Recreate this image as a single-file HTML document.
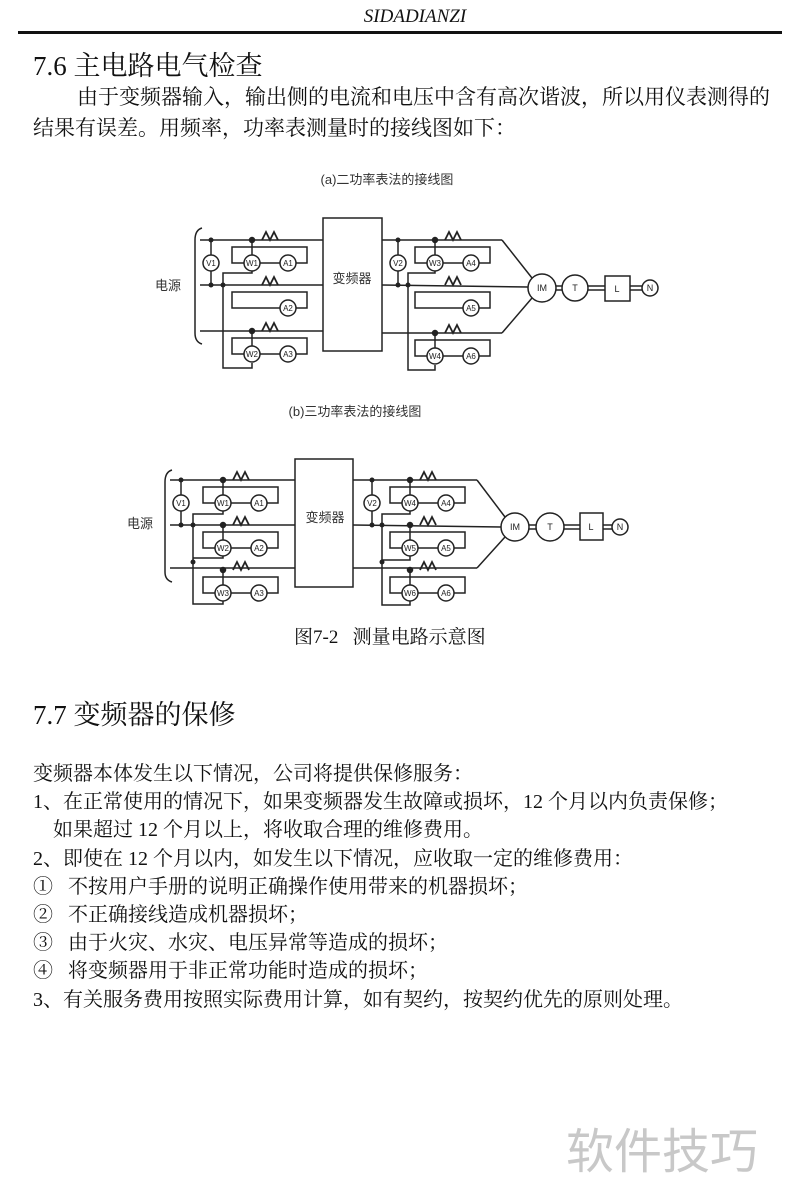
<!DOCTYPE html>
<html><head><meta charset="utf-8"><style>
body{margin:0;background:#fff;}
#p{position:relative;width:800px;height:1199px;overflow:hidden;background:#fff;font-family:"Liberation Serif","Noto Serif CJK SC",serif;color:#111;}
.t{position:absolute;white-space:nowrap;}
svg text{font-family:"Liberation Sans","Noto Sans CJK SC",sans-serif;}
</style></head><body><div id="p">
<div class="t" style="left:0;width:830px;text-align:center;top:6px;font-size:19px;font-style:italic;">SIDADIANZI</div>
<div style="position:absolute;left:18px;top:31px;width:764px;height:3px;background:#111;"></div>
<div class="t" style="left:33px;top:44px;font-size:27px;">7.6 主电路电气检查</div>
<div class="t" style="left:77px;top:81px;font-size:21px;">由于变频器输入，输出侧的电流和电压中含有高次谐波，所以用仪表测得的</div>
<div class="t" style="left:33px;top:112px;font-size:21px;">结果有误差。用频率，功率表测量时的接线图如下：</div>

<svg style="position:absolute;left:0;top:0" width="800" height="660" viewBox="0 0 800 660">
<defs>
<g id="u" fill="none" stroke="#222" stroke-width="1.5">
<rect x="-20" y="7" width="75" height="16"/>
<polyline points="10,0 14,-8 18,0 22,-8 26,0" stroke-width="1.8"/>
<line x1="0" y1="0" x2="0" y2="16"/>
<circle cx="0" cy="0" r="2.5" fill="#222"/>
<circle cx="0" cy="23" r="8" fill="#fff"/>
<circle cx="36" cy="23" r="8" fill="#fff"/>
</g>
<g id="ua" fill="none" stroke="#222" stroke-width="1.5">
<rect x="-20" y="7" width="75" height="16"/>
<polyline points="10,0 14,-8 18,0 22,-8 26,0" stroke-width="1.8"/>
<circle cx="36" cy="23" r="8" fill="#fff"/>
</g>
</defs>
<g fill="none" stroke="#222" stroke-width="1.5">
<!-- diagram a -->
<path d="M202,228 Q195,230 195,240 L195,333 Q195,342 202,344"/>
<line x1="200" y1="240" x2="323" y2="240"/><line x1="200" y1="285" x2="323" y2="285"/><line x1="200" y1="331" x2="323" y2="331"/>
<rect x="323" y="218" width="59" height="133" fill="#fff"/>
<line x1="211" y1="240" x2="211" y2="285"/>
<circle cx="211" cy="263" r="8" fill="#fff"/>
<polyline points="252,270 252,273 223,273 223,368 252,368 252,363"/>
<line x1="382" y1="240" x2="502" y2="240"/><line x1="502" y1="240" x2="532" y2="278"/>
<line x1="382" y1="285" x2="528" y2="287"/>
<line x1="382" y1="333" x2="502" y2="333"/><line x1="502" y1="333" x2="532" y2="298"/>
<line x1="398" y1="240" x2="398" y2="285"/>
<circle cx="398" cy="263" r="8" fill="#fff"/>
<polyline points="435,270 435,273 408,273 408,370 435,370 435,365"/>
<circle cx="542" cy="288" r="14" fill="#fff"/>
<line x1="556" y1="286" x2="562" y2="286"/><line x1="556" y1="290" x2="562" y2="290"/>
<circle cx="575" cy="288" r="13" fill="#fff"/>
<line x1="588" y1="286" x2="605" y2="286"/><line x1="588" y1="290" x2="605" y2="290"/>
<rect x="605" y="276" width="25" height="25" fill="#fff"/>
<line x1="630" y1="286" x2="642" y2="286"/><line x1="630" y1="290" x2="642" y2="290"/>
<circle cx="650" cy="288" r="8" fill="#fff"/>
<!-- diagram b -->
<path d="M172,470 Q165,472 165,482 L165,572 Q165,580 172,582"/>
<line x1="170" y1="480" x2="295" y2="480"/><line x1="170" y1="525" x2="295" y2="525"/><line x1="170" y1="568" x2="295" y2="568"/>
<rect x="295" y="459" width="58" height="128" fill="#fff"/>
<line x1="181" y1="480" x2="181" y2="525"/>
<circle cx="181" cy="503" r="8" fill="#fff"/>
<polyline points="223,510 223,514 193,514 193,604 223,604 223,600"/>
<polyline points="193,558 223,558 223,555"/>
<line x1="353" y1="480" x2="477" y2="480"/><line x1="477" y1="480" x2="505" y2="517"/>
<line x1="353" y1="525" x2="501" y2="527"/>
<line x1="353" y1="568" x2="477" y2="568"/><line x1="477" y1="568" x2="505" y2="537"/>
<line x1="372" y1="480" x2="372" y2="525"/>
<circle cx="372" cy="503" r="8" fill="#fff"/>
<polyline points="410,510 410,514 382,514 382,605 410,605 410,600"/>
<polyline points="382,560 410,560 410,555"/>
<circle cx="515" cy="527" r="14" fill="#fff"/>
<line x1="529" y1="525" x2="536" y2="525"/><line x1="529" y1="529" x2="536" y2="529"/>
<circle cx="550" cy="527" r="14" fill="#fff"/>
<line x1="564" y1="525" x2="580" y2="525"/><line x1="564" y1="529" x2="580" y2="529"/>
<rect x="580" y="513" width="23" height="27" fill="#fff"/>
<line x1="603" y1="525" x2="612" y2="525"/><line x1="603" y1="529" x2="612" y2="529"/>
<circle cx="620" cy="527" r="8" fill="#fff"/>
</g>
<g fill="#222">
<circle cx="211" cy="240" r="2.5"/><circle cx="211" cy="285" r="2.5"/><circle cx="223" cy="285" r="2.5"/>
<circle cx="398" cy="240" r="2.5"/><circle cx="398" cy="285" r="2.5"/><circle cx="408" cy="285" r="2.5"/>
<circle cx="181" cy="480" r="2.5"/><circle cx="181" cy="525" r="2.5"/><circle cx="193" cy="525" r="2.5"/><circle cx="193" cy="562" r="2.5"/>
<circle cx="372" cy="480" r="2.5"/><circle cx="372" cy="525" r="2.5"/><circle cx="382" cy="525" r="2.5"/><circle cx="382" cy="562" r="2.5"/>
</g>
<use href="#u" x="252" y="240"/><use href="#ua" x="252" y="285"/><use href="#u" x="252" y="331"/>
<use href="#u" x="435" y="240"/><use href="#ua" x="435" y="285"/><use href="#u" x="435" y="333"/>
<use href="#u" x="223" y="480"/><use href="#u" x="223" y="525"/><use href="#u" x="223" y="570"/>
<use href="#u" x="410" y="480"/><use href="#u" x="410" y="525"/><use href="#u" x="410" y="570"/>
<g font-size="8" text-anchor="middle" fill="#222">
<text x="211" y="266">V1</text><text x="252" y="266">W1</text><text x="288" y="266">A1</text>
<text x="288" y="311">A2</text><text x="252" y="357">W2</text><text x="288" y="357">A3</text>
<text x="398" y="266">V2</text><text x="435" y="266">W3</text><text x="471" y="266">A4</text>
<text x="471" y="311">A5</text><text x="435" y="359">W4</text><text x="471" y="359">A6</text>
<text x="181" y="506">V1</text><text x="223" y="506">W1</text><text x="259" y="506">A1</text>
<text x="223" y="551">W2</text><text x="259" y="551">A2</text><text x="223" y="596">W3</text><text x="259" y="596">A3</text>
<text x="372" y="506">V2</text><text x="410" y="506">W4</text><text x="446" y="506">A4</text>
<text x="410" y="551">W5</text><text x="446" y="551">A5</text><text x="410" y="596">W6</text><text x="446" y="596">A6</text>
<text x="542" y="291" font-size="9">IM</text><text x="575" y="291" font-size="9">T</text><text x="617" y="292" font-size="9">L</text><text x="650" y="291" font-size="9">N</text>
<text x="515" y="530" font-size="9">IM</text><text x="550" y="530" font-size="9">T</text><text x="591" y="530" font-size="9">L</text><text x="620" y="530" font-size="9">N</text>
</g>
<g font-size="13" text-anchor="middle" fill="#333">
<text x="387" y="184">(a)二功率表法的接线图</text>
<text x="355" y="416">(b)三功率表法的接线图</text>
<text x="352" y="283">变频器</text>
<text x="325" y="522">变频器</text>
<text x="168" y="290">电源</text>
<text x="140" y="528">电源</text>
</g>
</svg>

<div class="t" style="left:294px;top:622px;font-size:19px;">图7-2&nbsp;&nbsp;&nbsp;测量电路示意图</div>
<div class="t" style="left:33px;top:693px;font-size:27px;">7.7 变频器的保修</div>
<div style="position:absolute;left:33px;top:760px;font-size:20px;line-height:28.2px;white-space:nowrap;">
变频器本体发生以下情况，公司将提供保修服务：<br>
1、在正常使用的情况下，如果变频器发生故障或损坏，12 个月以内负责保修；<br>
&nbsp;&nbsp;&nbsp;&nbsp;如果超过 12 个月以上，将收取合理的维修费用。<br>
2、即使在 12 个月以内，如发生以下情况，应收取一定的维修费用：<br>
①&nbsp;&nbsp;&nbsp;不按用户手册的说明正确操作使用带来的机器损坏；<br>
②&nbsp;&nbsp;&nbsp;不正确接线造成机器损坏；<br>
③&nbsp;&nbsp;&nbsp;由于火灾、水灾、电压异常等造成的损坏；<br>
④&nbsp;&nbsp;&nbsp;将变频器用于非正常功能时造成的损坏；<br>
3、有关服务费用按照实际费用计算，如有契约，按契约优先的原则处理。
</div>
<div class="t" style="left:566px;top:1112px;font-size:48px;color:#c8c8c8;font-family:'Liberation Sans','Noto Sans CJK SC',sans-serif;">软件技巧</div>
</div></body></html>
